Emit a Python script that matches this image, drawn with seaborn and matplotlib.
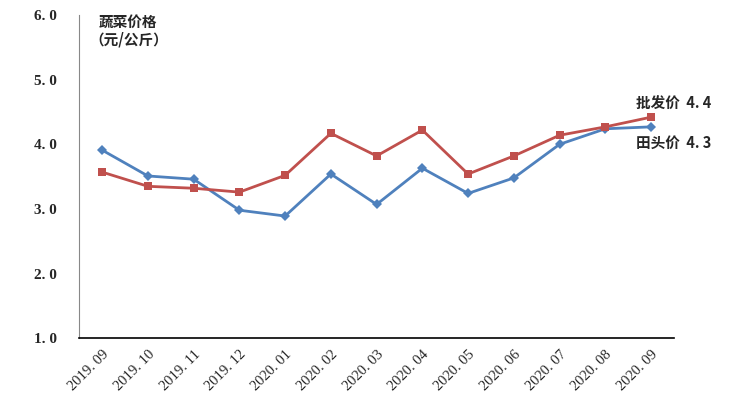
import matplotlib
matplotlib.use('Agg')
import matplotlib.pyplot as plt
import seaborn as sns
import pandas as pd

months = ['2019.09', '2019.10', '2019.11', '2019.12', '2020.01', '2020.02', '2020.03',
          '2020.04', '2020.05', '2020.06', '2020.07', '2020.08', '2020.09']
farm = [3.91, 3.51, 3.46, 2.98, 2.89, 3.54, 3.07, 3.63, 3.24, 3.48, 4.00, 4.24, 4.27]
wholesale = [3.57, 3.35, 3.32, 3.26, 3.52, 4.17, 3.82, 4.22, 3.54, 3.82, 4.14, 4.27, 4.42]
yticks = [1.0, 2.0, 3.0, 4.0, 5.0, 6.0]

sns.set_style('white')
plt.rcParams['font.family'] = ['Noto Sans CJK SC', 'DejaVu Sans']
NUM_FONT = ['Liberation Serif', 'DejaVu Serif']

df = pd.DataFrame({'month': months * 2,
                   'price': farm + wholesale,
                   'kind': ['田头价'] * len(months) + ['批发价'] * len(months)})
df['x'] = list(range(len(months))) * 2

fig = plt.figure(figsize=(7.48, 3.96), dpi=100)
ax = fig.add_axes([0.106, 0.146, 0.795, 0.816])
sns.lineplot(data=df, x='x', y='price', hue='kind', style='kind',
             palette={'田头价': '#4F81BD', '批发价': '#C0504D'},
             markers={'田头价': 'D', '批发价': 's'}, dashes=False,
             markersize=5.5, markeredgewidth=0, linewidth=2, legend=False, ax=ax)

ax.set_xlim(-0.5, len(months) - 0.5)
ax.set_ylim(1.0, 6.0)
ax.set_yticks(yticks)
ax.set_yticklabels([f'{v:.1f}'.replace('.', '. ') for v in yticks], fontsize=11,
                   fontweight='bold', family=NUM_FONT)
ax.set_xticks(range(len(months)))
ax.set_xticks([len(months) - 0.5], minor=True)
ax.set_xticklabels([m.replace('.', '. ') for m in months], rotation=45, ha='right',
                   rotation_mode='anchor', fontsize=10.5, family=NUM_FONT)
ax.tick_params(axis='y', which='both', direction='out', length=4, color='#888888', pad=12)
ax.tick_params(axis='x', which='both', direction='out', length=4, color='black', pad=3)
ax.set_xlabel('')
ax.set_ylabel('')
for s in ['top', 'right']:
    ax.spines[s].set_visible(False)
ax.spines['left'].set_color('#888888')
ax.spines['bottom'].set_color('black')
ax.spines['bottom'].set_linewidth(1.2)

fig.text(0.132, 0.945, '蔬菜价格', fontsize=10.5, fontweight='bold', va='center')
fig.text(0.12, 0.9, '（元/公斤）', fontsize=10.5, fontweight='bold', va='center')
fig.text(0.85, 0.737, '批发价  4. 4', fontsize=10.5, fontweight='bold', va='center',
         family=['Noto Sans CJK SC', 'DejaVu Sans'])
fig.text(0.85, 0.638, '田头价  4. 3', fontsize=10.5, fontweight='bold', va='center',
         family=['Noto Sans CJK SC', 'DejaVu Sans'])

fig.savefig('out.png', dpi=100)
